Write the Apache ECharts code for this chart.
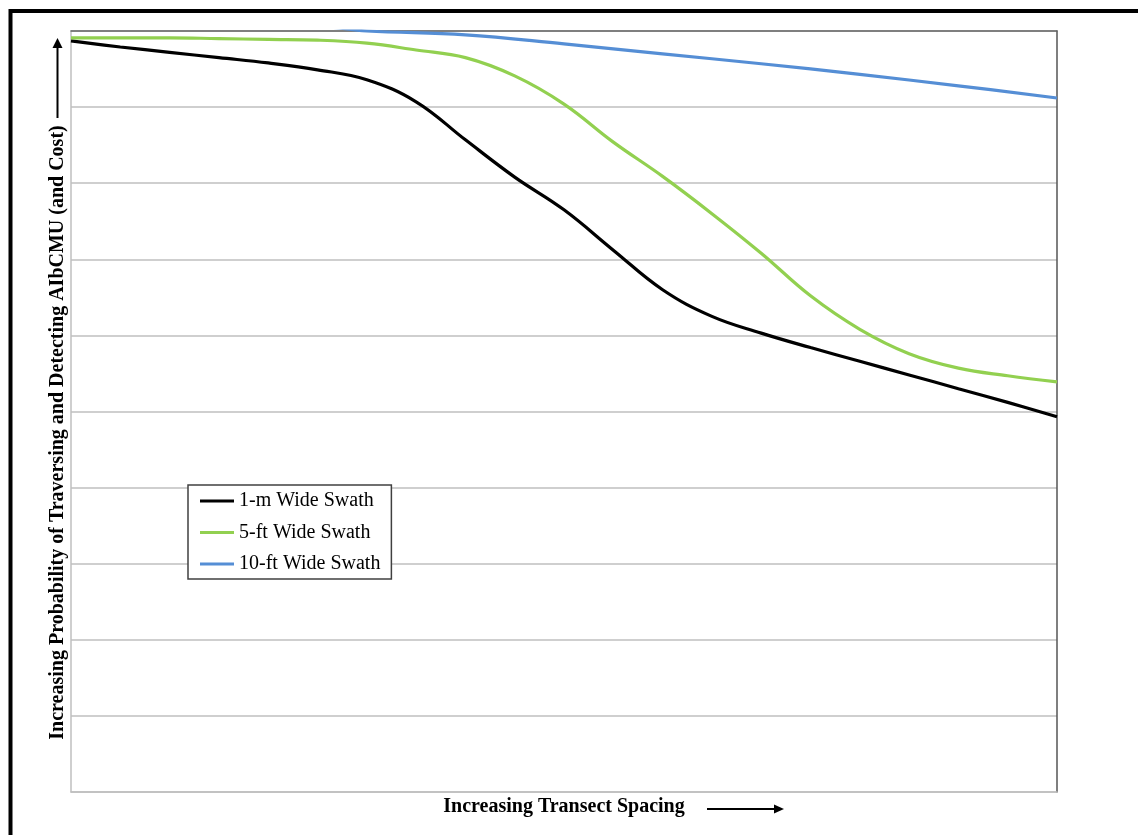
<!DOCTYPE html>
<html>
<head>
<meta charset="utf-8">
<script src="https://cdn.jsdelivr.net/npm/echarts@6/dist/echarts.min.js"></script>
<style>
html,body{margin:0;padding:0;background:#fff;}
#chart{width:1138px;height:835px;}
</style>
</head>
<body>
<div id="chart"></div>
<script>
// Data (x = relative transect spacing 0-100, y = relative probability 0-10)
const seriesNames = ['1-m Wide Swath', '5-ft Wide Swath', '10-ft Wide Swath'];
const spacingX = [0, 5, 10, 15, 20, 25, 30, 35, 40, 45, 50, 55, 60, 65, 70, 75, 80, 85, 90, 95, 100];
const swath1mY = [9.87, 9.79, 9.72, 9.65, 9.58, 9.49, 9.36, 9.07, 8.57, 8.08, 7.65, 7.12, 6.60, 6.25, 6.03, 5.84, 5.66, 5.48, 5.30, 5.12, 4.93];
const swath5ftY = [9.91, 9.91, 9.91, 9.90, 9.89, 9.88, 9.84, 9.75, 9.65, 9.41, 9.04, 8.54, 8.09, 7.60, 7.08, 6.52, 6.08, 5.76, 5.57, 5.47, 5.39];
const blueX = [0, 25, 30, 40, 50, 60, 70, 80, 90, 100];
const swath10ftY = [10.07, 10.06, 10.0, 9.95, 9.83, 9.70, 9.57, 9.43, 9.28, 9.12];
const colors = ['#000000', '#92D050', '#558ED5'];
const xTitle = 'Increasing Transect Spacing';
const yTitle = 'Increasing Probability of Traversing and Detecting AIbCMU (and Cost)';

function zip(xs, ys) { return xs.map((x, i) => [x, ys[i]]); }
const allData = [zip(spacingX, swath1mY), zip(spacingX, swath5ftY), zip(blueX, swath10ftY)];

const chart = echarts.init(document.getElementById('chart'));
const serif = '"Liberation Serif", "Times New Roman", serif';

chart.setOption({
  animation: false,
  backgroundColor: '#ffffff',
  grid: { left: 71, right: 81, top: 31, bottom: 43, containLabel: false },
  xAxis: [
    {
      type: 'value', min: 0, max: 100, position: 'bottom',
      axisLine: { show: true, lineStyle: { color: '#bfbfbf', width: 1.5 } },
      axisTick: { show: false }, axisLabel: { show: false }, splitLine: { show: false },
      name: xTitle, nameLocation: 'middle', nameGap: 5,
      nameTextStyle: { fontFamily: serif, fontSize: 20, fontWeight: 'bold', color: '#000' }
    },
    {
      type: 'value', min: 0, max: 100, position: 'top',
      axisLine: { show: true, onZero: false, lineStyle: { color: '#666666', width: 1.5 } },
      axisTick: { show: false }, axisLabel: { show: false }, splitLine: { show: false }
    }
  ],
  yAxis: [
    {
      type: 'value', min: 0, max: 10, interval: 1, position: 'left',
      axisLine: { show: true, lineStyle: { color: '#bfbfbf', width: 1.5 } },
      axisTick: { show: false }, axisLabel: { show: false },
      splitLine: { show: true, lineStyle: { color: '#bfbfbf', width: 1.5 } },
      name: yTitle, nameLocation: 'middle', nameGap: 3,
      nameTextStyle: { fontFamily: serif, fontSize: 20, fontWeight: 'bold', color: '#000', padding: [0, 42, 0, 0] }
    },
    {
      type: 'value', min: 0, max: 10, interval: 1, position: 'right',
      axisLine: { show: true, onZero: false, lineStyle: { color: '#555555', width: 1.5 } },
      axisTick: { show: false }, axisLabel: { show: false }, splitLine: { show: false }
    }
  ],
  legend: {
    orient: 'vertical', left: 188, top: 485,
    data: seriesNames,
    icon: 'rect', itemWidth: 34, itemHeight: 3, itemGap: 11.5,
    padding: [6, 11, 5, 12],
    backgroundColor: '#ffffff', borderColor: '#404040', borderWidth: 1.5,
    textStyle: { fontFamily: serif, fontSize: 20, color: '#000' }
  },
  series: seriesNames.map((name, i) => ({
    name: name, type: 'line', data: allData[i],
    smooth: 0.4, showSymbol: false, symbol: 'none',
    lineStyle: { color: colors[i], width: 3.2 },
    itemStyle: { color: colors[i] },
    z: 2
  })),
  graphic: [
    { type: 'polyline', shape: { points: [[10.5, 845], [10.5, 11], [1145, 11]] }, style: { stroke: '#000', lineWidth: 4, fill: null } },
    { type: 'line', shape: { x1: 57.5, y1: 118, x2: 57.5, y2: 46 }, style: { stroke: '#000', lineWidth: 2 } },
    { type: 'polygon', shape: { points: [[52.5, 48], [62.5, 48], [57.5, 38]] }, style: { fill: '#000' } },
    { type: 'line', shape: { x1: 707, y1: 809, x2: 776, y2: 809 }, style: { stroke: '#000', lineWidth: 2 } },
    { type: 'polygon', shape: { points: [[774, 804.5], [774, 813.5], [784, 809]] }, style: { fill: '#000' } }
  ]
});
</script>
</body>
</html>
